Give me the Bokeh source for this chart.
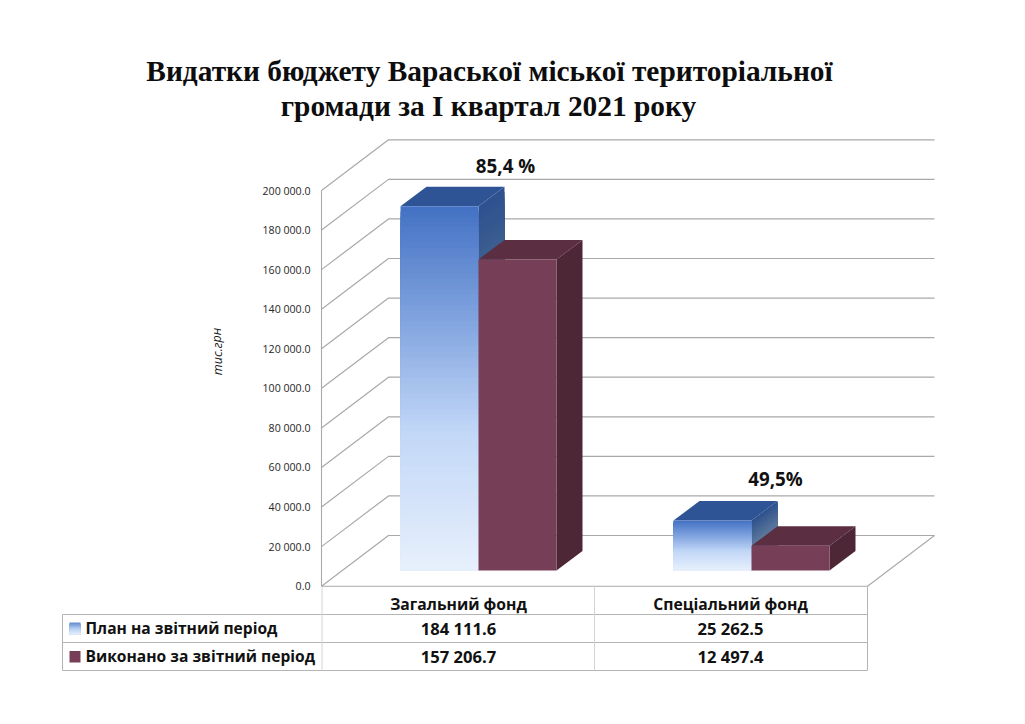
from bokeh.plotting import figure
from bokeh.models import Range1d, LinearAxis, FixedTicker
from bokeh.core.properties import value
from bokeh.embed import file_html
from bokeh.resources import INLINE

# ---- data
categories = ["Загальний фонд", "Спеціальний фонд"]
series_names = ["План на звітний період", "Виконано за звітний період"]
plan = [184111.6, 25262.5]
actual = [157206.7, 12497.4]
plan_labels = ["184 111.6", "25 262.5"]
actual_labels = ["157 206.7", "12 497.4"]
percent_labels = ["85,4 %", "49,5%"]
tick_values = [0, 20000, 40000, 60000, 80000, 100000, 120000, 140000, 160000, 180000, 200000]
tick_labels = ["0.0", "20 000.0", "40 000.0", "60 000.0", "80 000.0", "100 000.0",
               "120 000.0", "140 000.0", "160 000.0", "180 000.0", "200 000.0"]
title_lines = ["Видатки бюджету Вараської міської територіальної",
               "громади за I квартал 2021 року"]
y_title = "тис.грн"

# ---- layout (page pixels)
W, H = 1009, 708
K = 395.7 / 200000          # px per unit
Y0 = 585.7                  # page y of value 0 on the front plane
def v(py):                  # page y -> value units
    return (Y0 - py) / K
def pk(dpx):                # px -> value units
    return dpx / K

p = figure(width=W, height=H, output_backend="svg", toolbar_location=None,
           x_range=Range1d(0, W), y_range=Range1d(v(H), v(0)),
           x_axis_location=None, y_axis_location=None,
           min_border=0, min_border_left=0, min_border_right=0,
           min_border_top=0, min_border_bottom=0)
p.outline_line_color = None
p.grid.visible = False
p.background_fill_color = "white"

GRID = "#a9a9a9"
WALL_L, FLOOR_R = 321, 867
BACK_R = 934
DEPTH_X, DEPTH_PX = 67, 50.7

# back wall grid + left wall diagonals
for t in tick_values:
    yb = t + pk(DEPTH_PX)
    p.line([WALL_L, WALL_L + DEPTH_X, BACK_R], [t, yb, yb], line_color=GRID, line_width=1.2)
# floor front edge + right floor edge
p.line([WALL_L, FLOOR_R, BACK_R], [0, 0, pk(DEPTH_PX)], line_color=GRID, line_width=1.1)
# left wall front vertical
p.line([WALL_L, WALL_L], [0, 200000], line_color=GRID, line_width=1.1)

# real value axis, placed inside the frame
ax = LinearAxis(ticker=FixedTicker(ticks=tick_values),
                major_label_overrides=dict(zip(tick_values, tick_labels)))
ax.fixed_location = WALL_L
ax.axis_line_color = None
ax.major_tick_line_color = None
ax.minor_tick_line_color = None
ax.major_tick_out = 0
ax.major_tick_in = 0
ax.major_label_standoff = 11
ax.major_label_text_font = "Open Sans"
ax.major_label_text_font_size = "10.6px"
ax.major_label_text_color = "#262626"
p.add_layout(ax, "left")

def hex2(c):
    return tuple(int(c[i:i + 2], 16) for i in (1, 3, 5))
def grad(stops, f):
    for (a, ca), (b, cb) in zip(stops, stops[1:]):
        if f <= b:
            t = (f - a) / (b - a)
            A, B = hex2(ca), hex2(cb)
            return "#%02x%02x%02x" % tuple(round(A[i] + (B[i] - A[i]) * t) for i in range(3))
    return stops[-1][1]

FRONT_BLUE = [(0, "#4371c3"), (0.3, "#7fa2de"), (0.62, "#c2d7f7"), (1, "#e7f0fc")]
SIDE_BLUE = [(0, "#2e5090"), (0.15, "#3c5e90"), (1, "#8d9db0")]
TOP_BLUE = "#2f5496"
FRONT_RED, TOP_RED, SIDE_RED = "#773f57", "#5b2e41", "#4e2736"
BASE_PX = 15.7
BAR_DX, BAR_DY = 26, 19.5
GROUP_X = [400, 673]
BAR_W = 78
N = 70

def bar(x0, val, front, side, top):
    x1 = x0 + BAR_W
    base = pk(BASE_PX)
    ytop = base + val
    dy = pk(BAR_DY)
    # top face
    p.patch([x0, x0 + BAR_DX, x1 + BAR_DX, x1], [ytop, ytop + dy, ytop + dy, ytop],
            fill_color=top, line_color=None)
    # painter's order: each strip reaches the bar's foot, the next one covers it
    if isinstance(side, str):
        p.patch([x1, x1 + BAR_DX, x1 + BAR_DX, x1], [ytop, ytop + dy, base + dy, base],
                fill_color=side, line_color=None)
    else:
        xs, ys, cs = [], [], []
        for i in range(N):
            a = ytop - val * i / N
            xs.append([x1, x1 + BAR_DX, x1 + BAR_DX, x1])
            ys.append([a, a + dy, base + dy, base])
            cs.append(grad(side, (i + .5) / N))
        p.patches(xs, ys, fill_color=cs, line_color=None)
    if isinstance(front, str):
        p.quad(left=[x0], right=[x1], top=[ytop], bottom=[base], fill_color=front, line_color=None)
    else:
        tops = [ytop - val * i / N for i in range(N)]
        cs = [grad(front, (i + .5) / N) for i in range(N)]
        p.quad(left=x0, right=x1, top=tops, bottom=base, fill_color=cs, line_color=None)

for gx, a, b in zip(GROUP_X, plan, actual):
    bar(gx, a, FRONT_BLUE, SIDE_BLUE, TOP_BLUE)
    bar(gx + BAR_W, b, FRONT_RED, SIDE_RED, TOP_RED)

CAL = value("Open Sans")
def txt(x, py, s, size, align="center", font=CAL, style="bold", color="#111111", angle=0):
    p.text([x], [v(py)], text=[s], text_font=font, text_font_size=value(size),
           text_font_style=value(style), text_align=value(align), text_baseline=value("middle"),
           text_color=color, angle=angle)

# percent labels
txt(505, 165, percent_labels[0], "18.8px")
txt(775, 478, percent_labels[1], "18.8px")

# data table
ROWS = [586, 614, 642, 670]
TBL = "#b4b4b4"
for y, x0 in zip(ROWS[1:], [62, 62, 62]):
    p.line([x0, 867], [v(y), v(y)], line_color=TBL, line_width=1)
p.line([62, 62], [v(614), v(670)], line_color=TBL, line_width=1)
p.line([321.5, 321.5], [v(586), v(670)], line_color="#d4d4d4", line_width=1)
p.line([594, 594], [v(586), v(670)], line_color="#d4d4d4", line_width=1)
p.line([867, 867], [v(586), v(670)], line_color=TBL, line_width=1)

centers = [458, 730]
for c, cat, a, b in zip(centers, categories, plan_labels, actual_labels):
    txt(c, 603, cat, "15.7px")
    txt(c, 627.5, a, "16.6px")
    txt(c, 655.5, b, "16.6px")
txt(85, 627.5, series_names[0], "15.6px", align="left")
txt(85, 655.5, series_names[1], "15.6px", align="left")

# legend keys
n = 12
tops = [v(622 + i) for i in range(n)]
cs = [grad([(0, "#5f86cc"), (0.5, "#b5cdf2"), (1, "#e7f0fc")], (i + .5) / n) for i in range(n)]
p.quad(left=69, right=80, top=tops, bottom=v(634), fill_color=cs, line_color=None)
p.quad(left=[69], right=[80], top=[v(650.5)], bottom=[v(662)], fill_color=FRONT_RED, line_color=None)

# axis title
txt(216.5, 351, y_title, "12.5px", style="italic", angle=1.5708, color="#222222")

# title
SERIF = value("Liberation Serif")
txt(489, 70.5, title_lines[0], "29.4px", font=SERIF, color="#0d0d0d")
txt(488, 105.5, title_lines[1], "29.4px", font=SERIF, color="#0d0d0d")

open("out.html", "w").write(file_html(p, INLINE))
